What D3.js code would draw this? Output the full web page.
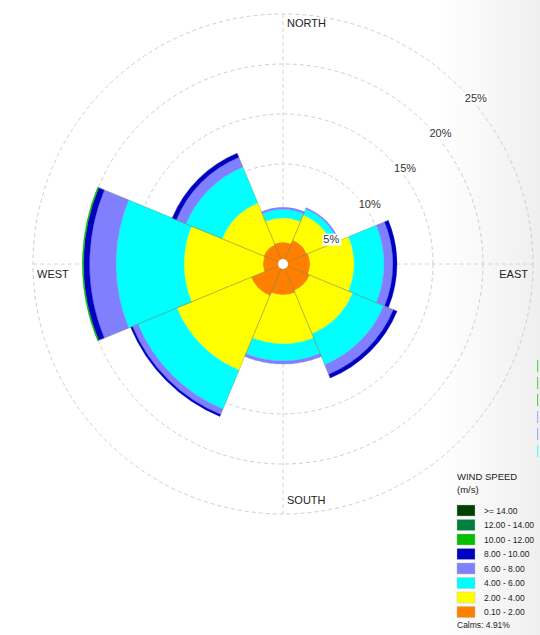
<!DOCTYPE html>
<html>
<head>
<meta charset="utf-8">
<script src="https://cdn.jsdelivr.net/npm/d3@7"></script>
<style>
  html, body { margin: 0; padding: 0; background: #fff; }
  svg { display: block; font-family: "Liberation Sans", Arial, sans-serif; }
</style>
</head>
<body>
<svg id="rose" width="540" height="635"></svg>
<script>
// Wind directions (8 sectors, clockwise from north)
const directions = ["N", "NE", "E", "SE", "S", "SW", "W", "NW"];
const compassLabels = ["NORTH", "EAST", "SOUTH", "WEST"];

// Speed classes, innermost first
const binLabels = ["0.10 - 2.00", "2.00 - 4.00", "4.00 - 6.00", "6.00 - 8.00",
                   "8.00 - 10.00", "10.00 - 12.00", "12.00 - 14.00", ">= 14.00"];
const binColors = ["#ff8000", "#ffff00", "#00ffff", "#8080ff",
                   "#0000c0", "#00c000", "#008040", "#004000"];

// Frequency (%) of each speed class per direction (N, NE, E, SE, S, SW, W, NW)
const freq0to2   = [2.2, 2.6, 2.7, 2.9, 3.1, 3.45, 2.0, 2.1];
const freq2to4   = [2.4, 2.7, 4.4, 4.65, 4.9, 8.05, 7.9, 4.5];
const freq4to6   = [0.85, 0.65, 3.0, 3.35, 1.7, 4.2, 6.8, 3.9];
const freq6to8   = [0.2, 0.15, 0.9, 1.05, 0.3, 0.6, 2.65, 1.05];
const freq8to10  = [0, 0, 0.4, 0.4, 0, 0.2, 0.6, 0.45];
const freq10to12 = [0, 0, 0, 0, 0, 0, 0.12, 0];
const freq12to14 = [0, 0, 0, 0, 0, 0, 0, 0];
const freq14up   = [0, 0, 0, 0, 0, 0, 0, 0];

const ringTicks = [5, 10, 15, 20, 25];
const calmsText = "Calms: 4.91%";

const freqByBin = [freq0to2, freq2to4, freq4to6, freq6to8,
                   freq8to10, freq10to12, freq12to14, freq14up];

const svg = d3.select("#rose");
const W = 540, H = 635;
const cx = 283, cy = 264, R = 250;

// light grey shading toward the right edge
const defs = svg.append("defs");
const grad = defs.append("linearGradient").attr("id", "edgeShade")
  .attr("x1", "0").attr("x2", "1").attr("y1", "0").attr("y2", "0");
grad.append("stop").attr("offset", "0").attr("stop-color", "#ffffff");
grad.append("stop").attr("offset", "1").attr("stop-color", "#efefef");
svg.append("rect").attr("x", 0).attr("y", 0).attr("width", W).attr("height", H).attr("fill", "#fff");
svg.append("rect").attr("x", 440).attr("y", 0).attr("width", 100).attr("height", H).attr("fill", "url(#edgeShade)");

const r = d3.scaleLinear().domain([0, 25]).range([0, R]);
const sectorWidth = 2 * Math.PI / directions.length;

const g = svg.append("g").attr("transform", `translate(${cx},${cy})`);

// grid rings
g.selectAll("circle.ring").data(ringTicks).join("circle")
  .attr("class", "ring")
  .attr("r", d => r(d))
  .attr("fill", "none")
  .attr("stroke", "#cfcfcf")
  .attr("stroke-width", 1)
  .attr("stroke-dasharray", "4,3");

// N-S and E-W axes
g.append("line").attr("x1", 0).attr("y1", -R).attr("x2", 0).attr("y2", R)
  .attr("stroke", "#d6d6d6").attr("stroke-dasharray", "4,3");
g.append("line").attr("x1", -R).attr("y1", 0).attr("x2", R).attr("y2", 0)
  .attr("stroke", "#d6d6d6").attr("stroke-dasharray", "4,3");

// stacked segments
const segments = [];
directions.forEach((dir, i) => {
  let cum = 0;
  freqByBin.forEach((arr, b) => {
    const v = arr[i];
    if (v > 0) {
      segments.push({ dir: i, bin: b, r0: cum, r1: cum + v });
    }
    cum += v;
  });
});

const arc = d3.arc()
  .innerRadius(d => r(d.r0))
  .outerRadius(d => r(d.r1))
  .startAngle(d => d.dir * sectorWidth - sectorWidth / 2)
  .endAngle(d => d.dir * sectorWidth + sectorWidth / 2);

g.selectAll("path.seg").data(segments).join("path")
  .attr("class", "seg")
  .attr("d", arc)
  .attr("fill", d => binColors[d.bin])
  .attr("stroke", d => binColors[d.bin])
  .attr("stroke-width", 0.3);

// thin sector edges
const totals = directions.map((d, i) => d3.sum(freqByBin, arr => arr[i]));
const edges = [];
totals.forEach((t, i) => {
  edges.push({ a: i * sectorWidth - sectorWidth / 2, t });
  edges.push({ a: i * sectorWidth + sectorWidth / 2, t });
});
g.selectAll("line.edge").data(edges).join("line")
  .attr("class", "edge")
  .attr("x1", 0).attr("y1", 0)
  .attr("x2", d => r(d.t) * Math.sin(d.a))
  .attr("y2", d => -r(d.t) * Math.cos(d.a))
  .attr("stroke", "#7a7a50")
  .attr("stroke-opacity", 0.45)
  .attr("stroke-width", 0.7);

// centre hole
g.append("circle").attr("r", 5).attr("fill", "#fff");

// ring labels along the NE diagonal
const diag = Math.PI / 4;
const ringLbl = g.selectAll("g.rl").data(ringTicks).join("g")
  .attr("class", "rl")
  .attr("transform", d => `translate(${r(d) * Math.sin(diag) + 5},${-r(d) * Math.cos(diag) + 14.5})`);
ringLbl.append("rect")
  .attr("x", -1).attr("y", -9.5).attr("width", d => d < 10 ? 19 : 24).attr("height", 12)
  .attr("fill", "#fff");
ringLbl.append("text")
  .attr("font-size", 11).attr("fill", "#333")
  .text(d => d + "%");

// compass labels
const compassPos = [
  { x: 4, y: -R + 13, anchor: "start" },
  { x: R - 5, y: 13.5, anchor: "end" },
  { x: 4, y: R - 10, anchor: "start" },
  { x: -R + 4, y: 13.5, anchor: "start" }
];
g.selectAll("text.compass").data(compassLabels).join("text")
  .attr("class", "compass")
  .attr("x", (d, i) => compassPos[i].x)
  .attr("y", (d, i) => compassPos[i].y)
  .attr("text-anchor", (d, i) => compassPos[i].anchor)
  .attr("font-size", 11).attr("fill", "#222")
  .text(d => d);

// legend
const lg = svg.append("g").attr("transform", "translate(457,0)");
lg.append("text").attr("x", 0).attr("y", 480).attr("font-size", 9.5).attr("fill", "#222").text("WIND SPEED");
lg.append("text").attr("x", 0).attr("y", 492.5).attr("font-size", 9.5).attr("fill", "#222").text("(m/s)");
const legendOrder = d3.range(binLabels.length).reverse();
const rows = lg.selectAll("g.row").data(legendOrder).join("g")
  .attr("class", "row")
  .attr("transform", (d, k) => `translate(0,${505 + k * 14.5})`);
rows.append("rect").attr("width", 18).attr("height", 11)
  .attr("fill", d => binColors[d]).attr("stroke", "#bbb").attr("stroke-width", 0.4);
rows.append("text").attr("x", 27).attr("y", 8.8)
  .attr("font-size", 8.5).attr("fill", "#222")
  .text(d => binLabels[d]);
lg.append("text").attr("x", 0).attr("y", 627.5).attr("font-size", 8.5).attr("fill", "#222").text(calmsText);

// partial strip at the far right edge
const stripColors = ["#00c000", "#00c000", "#00c000", "#8080ff", "#8080ff", "#00ffff"];
svg.selectAll("rect.strip").data(stripColors).join("rect")
  .attr("class", "strip")
  .attr("x", 537).attr("y", (d, i) => 360 + i * 17).attr("width", 1.2).attr("height", 12)
  .attr("fill", d => d).attr("opacity", 0.6);
</script>
</body>
</html>
